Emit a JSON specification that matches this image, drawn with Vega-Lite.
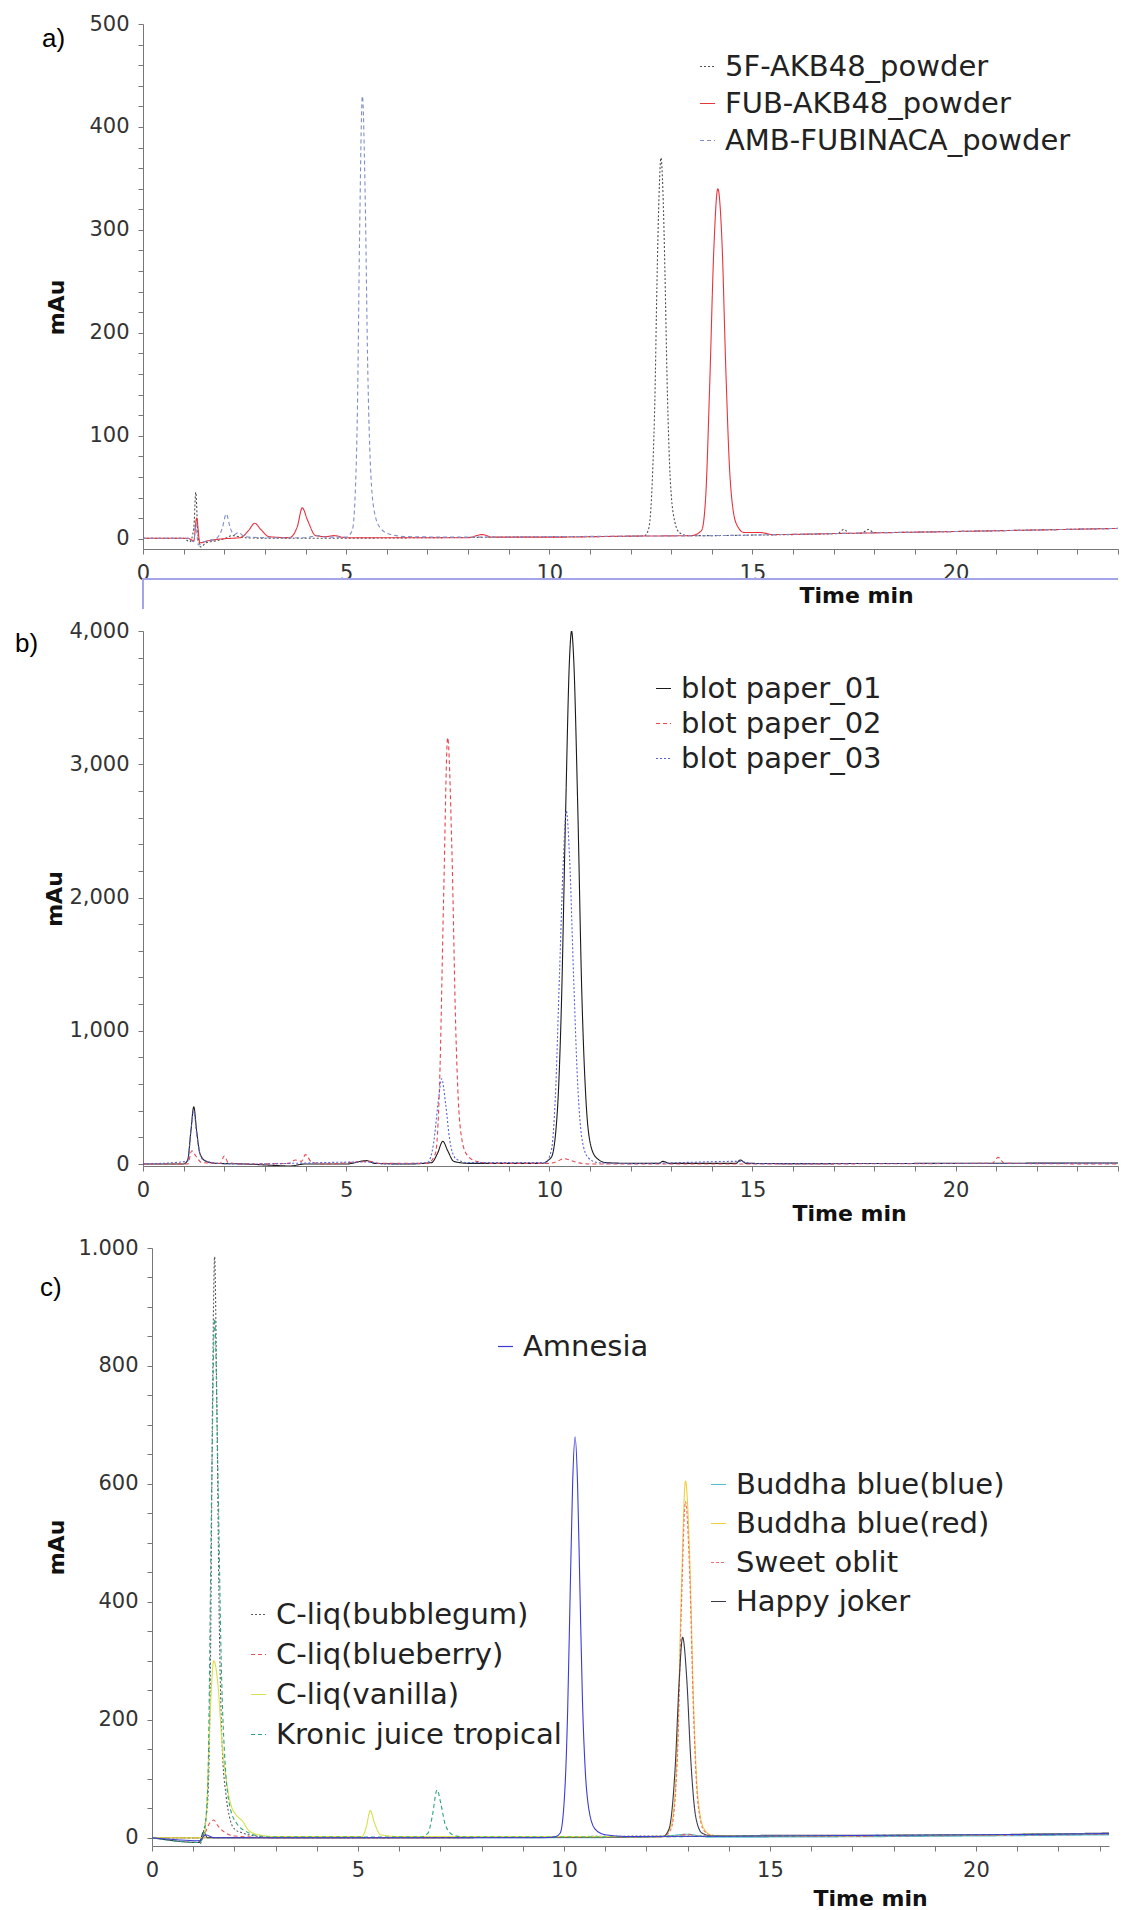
{
"$schema": "https://vega.github.io/schema/vega-lite/v6.json",
"padding": {"left": 15, "top": 13, "right": 0, "bottom": 0},
"autosize": {"type": "pad"},
"bounds": "flush",
"center": true,
"spacing": 82,
"resolve": {"scale": {"color": "independent", "strokeDash": "independent"}},
"config": {
 "view": {"stroke": null},
 "axis": {"labelFont": "DejaVu Sans", "labelFontSize": 21, "labelColor": "#333", "titleFont": "DejaVu Sans", "titleFontSize": 22, "titleFontWeight": "bold", "titleColor": "#111", "domainColor": "#777", "tickColor": "#777", "grid": false, "tickSize": 5, "labelOverlap": false, "labelFlush": false},
 "axisX": {"labelPadding": 8},
 "axisY": {"labelPadding": 9, "titlePadding": 12},
 "legend": {"orient": "none", "labelFont": "DejaVu Sans", "labelFontSize": 29, "labelColor": "#222", "symbolType": "stroke", "symbolSize": 225, "symbolStrokeWidth": 1.2, "labelOffset": 3, "rowPadding": 8, "padding": 0, "title": null, "labelLimit": 600},
 "title": {"font": "Liberation Sans", "fontSize": 26, "fontWeight": "normal", "color": "#000", "anchor": "start", "frame": "group", "offset": 0, "baseline": "middle"}
},
"vconcat": [
 {
  "width": 975, "height": 525,
  "title": {"text": "a)", "dx": -101, "dy": 43},
  "data": {"name": "a"},
  "encoding": {
   "x": {"field": "t", "type": "quantitative", "scale": {"domain": [0, 24], "nice": false, "zero": false},
         "axis": {"title": "Time min", "values": [0,1,2,3,4,5,6,7,8,9,10,11,12,13,14,15,16,17,18,19,20,21,22,23,24], "labelExpr": "datum.value % 5 === 0 ? datum.label : ''", "titleX": 713, "titleY": 46, "titleBaseline": "middle", "titleAlign": "center"}},
   "y": {"field": "v", "type": "quantitative", "scale": {"domain": [-10, 500], "nice": false, "zero": false},
         "axis": {"title": "mAu", "titleX": -87, "titleY": 283, "titleBaseline": "middle", "titleAlign": "center", "values": [0,20,40,60,80,100,120,140,160,180,200,220,240,260,280,300,320,340,360,380,400,420,440,460,480,500], "labelExpr": "datum.value % 100 === 0 ? datum.label : ''"}}
  },
  "layer": [
   {
    "mark": {"type": "line", "strokeWidth": 1.1, "clip": true, "interpolate": "monotone"},
    "encoding": {
     "color": {"field": "s", "type": "nominal", "sort": ["5F-AKB48_powder", "FUB-AKB48_powder", "AMB-FUBINACA_powder"],
               "scale": {"domain": ["5F-AKB48_powder", "FUB-AKB48_powder", "AMB-FUBINACA_powder"], "range": ["#505050", "#e8333f", "#7f8fc8"]},
               "legend": {"legendX": 550, "legendY": 28, "rowPadding": 7}},
     "strokeDash": {"field": "s", "type": "nominal", "sort": ["5F-AKB48_powder", "FUB-AKB48_powder", "AMB-FUBINACA_powder"],
               "scale": {"domain": ["5F-AKB48_powder", "FUB-AKB48_powder", "AMB-FUBINACA_powder"], "range": [[2,2], [1,0], [4,3]]},
               "legend": {"legendX": 550, "legendY": 28, "rowPadding": 7}}
    }
   },
   {
    "mark": {"type": "rule", "color": "#a4a4ea", "strokeWidth": 1.2, "clip": false},
    "encoding": {"x": null, "y": {"datum": -39}}
   },
   {
    "mark": {"type": "rule", "color": "#a4a4ea", "strokeWidth": 1.2, "clip": false},
    "encoding": {"x": {"datum": 0}, "y": {"datum": -39}, "y2": {"datum": -68}}
   }
  ]
 },
 {
  "width": 975, "height": 535,
  "title": {"text": "b)", "dx": -128, "dy": 41},
  "data": {"name": "b"},
  "mark": {"type": "line", "strokeWidth": 1.1, "clip": true, "interpolate": "monotone"},
  "encoding": {
   "x": {"field": "t", "type": "quantitative", "scale": {"domain": [0, 24], "nice": false},
         "axis": {"title": "Time min", "values": [0,1,2,3,4,5,6,7,8,9,10,11,12,13,14,15,16,17,18,19,20,21,22,23,24], "labelExpr": "datum.value % 5 === 0 ? datum.label : ''", "titleX": 706, "titleY": 47, "titleBaseline": "middle", "titleAlign": "center"}},
   "y": {"field": "v", "type": "quantitative", "scale": {"domain": [-15, 4000], "nice": false, "zero": false},
         "axis": {"title": "mAu", "titleX": -89, "titleBaseline": "middle", "titleAlign": "center", "values": [0,200,400,600,800,1000,1200,1400,1600,1800,2000,2200,2400,2600,2800,3000,3200,3400,3600,3800,4000], "labelExpr": "datum.value % 1000 === 0 ? format(datum.value, ',') : ''"}},
   "color": {"field": "s", "type": "nominal", "sort": ["blot paper_01", "blot paper_02", "blot paper_03"],
             "scale": {"domain": ["blot paper_01", "blot paper_02", "blot paper_03"], "range": ["#1a1a1a", "#e8454f", "#5865d0"]},
             "legend": {"legendX": 506, "legendY": 43, "rowPadding": 5}},
   "strokeDash": {"field": "s", "type": "nominal", "sort": ["blot paper_01", "blot paper_02", "blot paper_03"],
             "scale": {"domain": ["blot paper_01", "blot paper_02", "blot paper_03"], "range": [[1,0], [4,3], [2,2]]},
             "legend": {"legendX": 506, "legendY": 43, "rowPadding": 5}}
  }
 },
 {
  "width": 957, "height": 598,
  "title": {"text": "c)", "dx": -112, "dy": 68},
  "resolve": {"scale": {"color": "independent", "strokeDash": "independent"}},
  "encoding": {
   "x": {"field": "t", "type": "quantitative", "scale": {"domain": [0, 23.23], "nice": false},
         "axis": {"title": "Time min", "values": [0,1,2,3,4,5,6,7,8,9,10,11,12,13,14,15,16,17,18,19,20,21,22,23], "labelExpr": "datum.value % 5 === 0 ? datum.label : ''", "titleX": 718, "titleY": 52, "titleBaseline": "middle", "titleAlign": "center"}},
   "y": {"field": "v", "type": "quantitative", "scale": {"domain": [-14, 1000], "nice": false, "zero": false},
         "axis": {"title": "mAu", "titleX": -96, "titleBaseline": "middle", "titleAlign": "center", "values": [0,50,100,150,200,250,300,350,400,450,500,550,600,650,700,750,800,850,900,950,1000], "labelExpr": "datum.value % 200 === 0 ? replace(format(datum.value, ','), ',', '.') : ''"}}
  },
  "layer": [
   {
    "data": {"name": "c3"},
    "mark": {"type": "line", "strokeWidth": 1.1, "clip": true, "interpolate": "monotone"},
    "encoding": {
     "color": {"field": "s", "type": "nominal", "sort": ["Buddha blue(blue)", "Buddha blue(red)", "Sweet oblit", "Happy joker"],
               "scale": {"domain": ["Buddha blue(blue)", "Buddha blue(red)", "Sweet oblit", "Happy joker"], "range": ["#50c0d0", "#f0d040", "#f07070", "#3a3a48"]},
               "legend": {"legendX": 552, "legendY": 222, "rowPadding": 9}},
     "strokeDash": {"field": "s", "type": "nominal", "sort": ["Buddha blue(blue)", "Buddha blue(red)", "Sweet oblit", "Happy joker"],
               "scale": {"domain": ["Buddha blue(blue)", "Buddha blue(red)", "Sweet oblit", "Happy joker"], "range": [[1,0], [1,0], [3,2], [1,0]]},
               "legend": {"legendX": 552, "legendY": 222, "rowPadding": 9}}
    }
   },
   {
    "data": {"name": "c1"},
    "mark": {"type": "line", "strokeWidth": 1.1, "clip": true, "interpolate": "monotone"},
    "encoding": {
     "color": {"field": "s", "type": "nominal", "sort": ["C-liq(bubblegum)", "C-liq(blueberry)", "C-liq(vanilla)", "Kronic juice tropical"],
               "scale": {"domain": ["C-liq(bubblegum)", "C-liq(blueberry)", "C-liq(vanilla)", "Kronic juice tropical"], "range": ["#5a5a5a", "#e05555", "#d6e04a", "#2fa37a"]},
               "legend": {"legendX": 92, "legendY": 352, "rowPadding": 10}},
     "strokeDash": {"field": "s", "type": "nominal", "sort": ["C-liq(bubblegum)", "C-liq(blueberry)", "C-liq(vanilla)", "Kronic juice tropical"],
               "scale": {"domain": ["C-liq(bubblegum)", "C-liq(blueberry)", "C-liq(vanilla)", "Kronic juice tropical"], "range": [[2,2], [4,3], [1,0], [4,3]]},
               "legend": {"legendX": 92, "legendY": 352, "rowPadding": 10}}
    }
   },
   {
    "data": {"name": "c2"},
    "mark": {"type": "line", "strokeWidth": 1.1, "clip": true, "interpolate": "monotone"},
    "encoding": {
     "color": {"field": "s", "type": "nominal",
               "scale": {"domain": ["Amnesia"], "range": ["#3b3bd6"]},
               "legend": {"legendX": 339, "legendY": 84}}
    }
   }
  ]
 }
],
"datasets": {
 "a": [
  {"s":"5F-AKB48_powder","t":0,"v":0.5},{"s":"5F-AKB48_powder","t":0.5,"v":0.4},{"s":"5F-AKB48_powder","t":1.0,"v":0.5},{"s":"5F-AKB48_powder","t":1.15,"v":-3},{"s":"5F-AKB48_powder","t":1.25,"v":10},{"s":"5F-AKB48_powder","t":1.3,"v":45},{"s":"5F-AKB48_powder","t":1.35,"v":5},{"s":"5F-AKB48_powder","t":1.42,"v":-8},{"s":"5F-AKB48_powder","t":1.55,"v":-4},{"s":"5F-AKB48_powder","t":1.8,"v":-2},{"s":"5F-AKB48_powder","t":2.0,"v":0},{"s":"5F-AKB48_powder","t":2.2,"v":3},{"s":"5F-AKB48_powder","t":2.5,"v":1},{"s":"5F-AKB48_powder","t":3.0,"v":0.5},{"s":"5F-AKB48_powder","t":4.0,"v":0.5},{"s":"5F-AKB48_powder","t":5.0,"v":0.5},{"s":"5F-AKB48_powder","t":7.0,"v":1},{"s":"5F-AKB48_powder","t":9.0,"v":1.5},{"s":"5F-AKB48_powder","t":11.0,"v":2},{"s":"5F-AKB48_powder","t":12.2,"v":2.5},{"s":"5F-AKB48_powder","t":12.35,"v":3},{"s":"5F-AKB48_powder","t":12.45,"v":10},{"s":"5F-AKB48_powder","t":12.55,"v":70},{"s":"5F-AKB48_powder","t":12.6,"v":135},{"s":"5F-AKB48_powder","t":12.65,"v":245},{"s":"5F-AKB48_powder","t":12.7,"v":330},{"s":"5F-AKB48_powder","t":12.75,"v":370},{"s":"5F-AKB48_powder","t":12.8,"v":335},{"s":"5F-AKB48_powder","t":12.85,"v":255},{"s":"5F-AKB48_powder","t":12.9,"v":155},{"s":"5F-AKB48_powder","t":12.95,"v":85},{"s":"5F-AKB48_powder","t":13.05,"v":25},{"s":"5F-AKB48_powder","t":13.2,"v":6},{"s":"5F-AKB48_powder","t":13.4,"v":3},{"s":"5F-AKB48_powder","t":14,"v":3},{"s":"5F-AKB48_powder","t":15,"v":3.5},{"s":"5F-AKB48_powder","t":17.1,"v":5},{"s":"5F-AKB48_powder","t":17.25,"v":9},{"s":"5F-AKB48_powder","t":17.4,"v":5},{"s":"5F-AKB48_powder","t":17.7,"v":5.5},{"s":"5F-AKB48_powder","t":17.85,"v":9},{"s":"5F-AKB48_powder","t":18.0,"v":6},{"s":"5F-AKB48_powder","t":20,"v":7},{"s":"5F-AKB48_powder","t":22,"v":8.5},{"s":"5F-AKB48_powder","t":24,"v":10},
  {"s":"FUB-AKB48_powder","t":0,"v":0.5},{"s":"FUB-AKB48_powder","t":1.1,"v":0.5},{"s":"FUB-AKB48_powder","t":1.25,"v":-2},{"s":"FUB-AKB48_powder","t":1.32,"v":20},{"s":"FUB-AKB48_powder","t":1.4,"v":-4},{"s":"FUB-AKB48_powder","t":1.6,"v":-2},{"s":"FUB-AKB48_powder","t":2.0,"v":0},{"s":"FUB-AKB48_powder","t":2.4,"v":1},{"s":"FUB-AKB48_powder","t":2.6,"v":8},{"s":"FUB-AKB48_powder","t":2.75,"v":15},{"s":"FUB-AKB48_powder","t":2.9,"v":9},{"s":"FUB-AKB48_powder","t":3.1,"v":2},{"s":"FUB-AKB48_powder","t":3.6,"v":1},{"s":"FUB-AKB48_powder","t":3.8,"v":12},{"s":"FUB-AKB48_powder","t":3.92,"v":30},{"s":"FUB-AKB48_powder","t":4.05,"v":18},{"s":"FUB-AKB48_powder","t":4.25,"v":3},{"s":"FUB-AKB48_powder","t":4.5,"v":2},{"s":"FUB-AKB48_powder","t":4.7,"v":3},{"s":"FUB-AKB48_powder","t":5,"v":1},{"s":"FUB-AKB48_powder","t":6,"v":1},{"s":"FUB-AKB48_powder","t":8,"v":1},{"s":"FUB-AKB48_powder","t":8.35,"v":4},{"s":"FUB-AKB48_powder","t":8.6,"v":1.5},{"s":"FUB-AKB48_powder","t":10,"v":1.5},{"s":"FUB-AKB48_powder","t":12,"v":2.5},{"s":"FUB-AKB48_powder","t":13.5,"v":3},{"s":"FUB-AKB48_powder","t":13.75,"v":8},{"s":"FUB-AKB48_powder","t":13.85,"v":40},{"s":"FUB-AKB48_powder","t":13.95,"v":150},{"s":"FUB-AKB48_powder","t":14.05,"v":280},{"s":"FUB-AKB48_powder","t":14.15,"v":340},{"s":"FUB-AKB48_powder","t":14.25,"v":290},{"s":"FUB-AKB48_powder","t":14.35,"v":160},{"s":"FUB-AKB48_powder","t":14.45,"v":60},{"s":"FUB-AKB48_powder","t":14.6,"v":15},{"s":"FUB-AKB48_powder","t":14.8,"v":6},{"s":"FUB-AKB48_powder","t":15.2,"v":6},{"s":"FUB-AKB48_powder","t":15.5,"v":4},{"s":"FUB-AKB48_powder","t":17,"v":5},{"s":"FUB-AKB48_powder","t":20,"v":7},{"s":"FUB-AKB48_powder","t":24,"v":10},
  {"s":"AMB-FUBINACA_powder","t":0,"v":0.5},{"s":"AMB-FUBINACA_powder","t":1.1,"v":0.5},{"s":"AMB-FUBINACA_powder","t":1.25,"v":-3},{"s":"AMB-FUBINACA_powder","t":1.3,"v":15},{"s":"AMB-FUBINACA_powder","t":1.36,"v":-6},{"s":"AMB-FUBINACA_powder","t":1.5,"v":-3},{"s":"AMB-FUBINACA_powder","t":1.8,"v":0},{"s":"AMB-FUBINACA_powder","t":1.95,"v":10},{"s":"AMB-FUBINACA_powder","t":2.05,"v":24},{"s":"AMB-FUBINACA_powder","t":2.15,"v":10},{"s":"AMB-FUBINACA_powder","t":2.25,"v":4},{"s":"AMB-FUBINACA_powder","t":2.35,"v":6},{"s":"AMB-FUBINACA_powder","t":2.5,"v":2},{"s":"AMB-FUBINACA_powder","t":3.0,"v":1},{"s":"AMB-FUBINACA_powder","t":4,"v":1},{"s":"AMB-FUBINACA_powder","t":4.3,"v":3},{"s":"AMB-FUBINACA_powder","t":4.5,"v":1.5},{"s":"AMB-FUBINACA_powder","t":5.0,"v":1.5},{"s":"AMB-FUBINACA_powder","t":5.15,"v":8},{"s":"AMB-FUBINACA_powder","t":5.22,"v":40},{"s":"AMB-FUBINACA_powder","t":5.28,"v":130},{"s":"AMB-FUBINACA_powder","t":5.33,"v":290},{"s":"AMB-FUBINACA_powder","t":5.4,"v":430},{"s":"AMB-FUBINACA_powder","t":5.47,"v":330},{"s":"AMB-FUBINACA_powder","t":5.53,"v":170},{"s":"AMB-FUBINACA_powder","t":5.6,"v":70},{"s":"AMB-FUBINACA_powder","t":5.7,"v":25},{"s":"AMB-FUBINACA_powder","t":5.85,"v":10},{"s":"AMB-FUBINACA_powder","t":6.1,"v":4},{"s":"AMB-FUBINACA_powder","t":6.5,"v":2},{"s":"AMB-FUBINACA_powder","t":8,"v":1.5},{"s":"AMB-FUBINACA_powder","t":10,"v":2},{"s":"AMB-FUBINACA_powder","t":12,"v":2.5},{"s":"AMB-FUBINACA_powder","t":14,"v":3},{"s":"AMB-FUBINACA_powder","t":17,"v":5},{"s":"AMB-FUBINACA_powder","t":20,"v":7},{"s":"AMB-FUBINACA_powder","t":24,"v":10}
 ],
 "b": [
  {"s":"blot paper_01","t":0,"v":0},{"s":"blot paper_01","t":1.0,"v":0},{"s":"blot paper_01","t":1.1,"v":30},{"s":"blot paper_01","t":1.18,"v":250},{"s":"blot paper_01","t":1.25,"v":430},{"s":"blot paper_01","t":1.32,"v":250},{"s":"blot paper_01","t":1.4,"v":80},{"s":"blot paper_01","t":1.55,"v":20},{"s":"blot paper_01","t":1.8,"v":5},{"s":"blot paper_01","t":2.5,"v":0},{"s":"blot paper_01","t":3.2,"v":-10},{"s":"blot paper_01","t":3.6,"v":-15},{"s":"blot paper_01","t":4.0,"v":0},{"s":"blot paper_01","t":5.0,"v":0},{"s":"blot paper_01","t":5.5,"v":25},{"s":"blot paper_01","t":5.7,"v":5},{"s":"blot paper_01","t":6.5,"v":0},{"s":"blot paper_01","t":7.1,"v":10},{"s":"blot paper_01","t":7.25,"v":80},{"s":"blot paper_01","t":7.38,"v":170},{"s":"blot paper_01","t":7.5,"v":100},{"s":"blot paper_01","t":7.65,"v":20},{"s":"blot paper_01","t":8,"v":5},{"s":"blot paper_01","t":9.8,"v":5},{"s":"blot paper_01","t":10.05,"v":50},{"s":"blot paper_01","t":10.2,"v":400},{"s":"blot paper_01","t":10.3,"v":1200},{"s":"blot paper_01","t":10.4,"v":2600},{"s":"blot paper_01","t":10.5,"v":3800},{"s":"blot paper_01","t":10.55,"v":4000},{"s":"blot paper_01","t":10.6,"v":3800},{"s":"blot paper_01","t":10.7,"v":2700},{"s":"blot paper_01","t":10.8,"v":1300},{"s":"blot paper_01","t":10.9,"v":500},{"s":"blot paper_01","t":11.0,"v":170},{"s":"blot paper_01","t":11.15,"v":50},{"s":"blot paper_01","t":11.4,"v":10},{"s":"blot paper_01","t":12,"v":5},{"s":"blot paper_01","t":12.7,"v":5},{"s":"blot paper_01","t":12.8,"v":20},{"s":"blot paper_01","t":12.95,"v":5},{"s":"blot paper_01","t":14.6,"v":5},{"s":"blot paper_01","t":14.7,"v":30},{"s":"blot paper_01","t":14.85,"v":5},{"s":"blot paper_01","t":16,"v":3},{"s":"blot paper_01","t":20,"v":5},{"s":"blot paper_01","t":24,"v":8},
  {"s":"blot paper_02","t":0,"v":0},{"s":"blot paper_02","t":1.1,"v":0},{"s":"blot paper_02","t":1.2,"v":100},{"s":"blot paper_02","t":1.3,"v":60},{"s":"blot paper_02","t":1.45,"v":10},{"s":"blot paper_02","t":1.9,"v":5},{"s":"blot paper_02","t":2.0,"v":60},{"s":"blot paper_02","t":2.1,"v":10},{"s":"blot paper_02","t":2.5,"v":0},{"s":"blot paper_02","t":3.6,"v":5},{"s":"blot paper_02","t":3.75,"v":30},{"s":"blot paper_02","t":3.9,"v":20},{"s":"blot paper_02","t":4.0,"v":70},{"s":"blot paper_02","t":4.15,"v":15},{"s":"blot paper_02","t":4.5,"v":0},{"s":"blot paper_02","t":5.6,"v":20},{"s":"blot paper_02","t":5.8,"v":5},{"s":"blot paper_02","t":7.0,"v":5},{"s":"blot paper_02","t":7.2,"v":80},{"s":"blot paper_02","t":7.3,"v":600},{"s":"blot paper_02","t":7.4,"v":2000},{"s":"blot paper_02","t":7.5,"v":3200},{"s":"blot paper_02","t":7.6,"v":2400},{"s":"blot paper_02","t":7.7,"v":1000},{"s":"blot paper_02","t":7.8,"v":300},{"s":"blot paper_02","t":7.95,"v":80},{"s":"blot paper_02","t":8.2,"v":20},{"s":"blot paper_02","t":8.6,"v":5},{"s":"blot paper_02","t":10.0,"v":5},{"s":"blot paper_02","t":10.2,"v":20},{"s":"blot paper_02","t":10.35,"v":40},{"s":"blot paper_02","t":10.5,"v":30},{"s":"blot paper_02","t":10.7,"v":10},{"s":"blot paper_02","t":11,"v":0},{"s":"blot paper_02","t":14,"v":0},{"s":"blot paper_02","t":20.9,"v":5},{"s":"blot paper_02","t":21.05,"v":50},{"s":"blot paper_02","t":21.2,"v":5},{"s":"blot paper_02","t":24,"v":0},
  {"s":"blot paper_03","t":0,"v":0},{"s":"blot paper_03","t":1.1,"v":20},{"s":"blot paper_03","t":1.18,"v":250},{"s":"blot paper_03","t":1.25,"v":400},{"s":"blot paper_03","t":1.32,"v":230},{"s":"blot paper_03","t":1.45,"v":40},{"s":"blot paper_03","t":1.8,"v":5},{"s":"blot paper_03","t":2.5,"v":0},{"s":"blot paper_03","t":5.5,"v":15},{"s":"blot paper_03","t":6,"v":0},{"s":"blot paper_03","t":7.0,"v":10},{"s":"blot paper_03","t":7.15,"v":150},{"s":"blot paper_03","t":7.28,"v":500},{"s":"blot paper_03","t":7.35,"v":640},{"s":"blot paper_03","t":7.45,"v":450},{"s":"blot paper_03","t":7.55,"v":180},{"s":"blot paper_03","t":7.7,"v":40},{"s":"blot paper_03","t":8,"v":10},{"s":"blot paper_03","t":9.9,"v":10},{"s":"blot paper_03","t":10.05,"v":100},{"s":"blot paper_03","t":10.15,"v":500},{"s":"blot paper_03","t":10.25,"v":1400},{"s":"blot paper_03","t":10.35,"v":2300},{"s":"blot paper_03","t":10.42,"v":2650},{"s":"blot paper_03","t":10.5,"v":2300},{"s":"blot paper_03","t":10.6,"v":1400},{"s":"blot paper_03","t":10.7,"v":600},{"s":"blot paper_03","t":10.8,"v":200},{"s":"blot paper_03","t":10.95,"v":50},{"s":"blot paper_03","t":11.2,"v":10},{"s":"blot paper_03","t":12,"v":3},{"s":"blot paper_03","t":14.7,"v":20},{"s":"blot paper_03","t":15,"v":3},{"s":"blot paper_03","t":24,"v":5}
 ],
 "c1": [
  {"s":"C-liq(bubblegum)","t":0,"v":0},{"s":"C-liq(bubblegum)","t":1.1,"v":0},{"s":"C-liq(bubblegum)","t":1.17,"v":-10},{"s":"C-liq(bubblegum)","t":1.25,"v":10},{"s":"C-liq(bubblegum)","t":1.35,"v":60},{"s":"C-liq(bubblegum)","t":1.42,"v":300},{"s":"C-liq(bubblegum)","t":1.47,"v":750},{"s":"C-liq(bubblegum)","t":1.52,"v":985},{"s":"C-liq(bubblegum)","t":1.57,"v":760},{"s":"C-liq(bubblegum)","t":1.63,"v":380},{"s":"C-liq(bubblegum)","t":1.7,"v":160},{"s":"C-liq(bubblegum)","t":1.8,"v":70},{"s":"C-liq(bubblegum)","t":1.9,"v":30},{"s":"C-liq(bubblegum)","t":2.0,"v":15},{"s":"C-liq(bubblegum)","t":2.2,"v":8},{"s":"C-liq(bubblegum)","t":2.5,"v":3},{"s":"C-liq(bubblegum)","t":3,"v":0},{"s":"C-liq(bubblegum)","t":5,"v":0},{"s":"C-liq(bubblegum)","t":7,"v":1},{"s":"C-liq(bubblegum)","t":10,"v":2},{"s":"C-liq(bubblegum)","t":13,"v":3},{"s":"C-liq(bubblegum)","t":15,"v":3},{"s":"C-liq(bubblegum)","t":20,"v":5},{"s":"C-liq(bubblegum)","t":23.3,"v":7},
  {"s":"C-liq(blueberry)","t":0,"v":0},{"s":"C-liq(blueberry)","t":1.2,"v":0},{"s":"C-liq(blueberry)","t":1.3,"v":10},{"s":"C-liq(blueberry)","t":1.4,"v":25},{"s":"C-liq(blueberry)","t":1.5,"v":30},{"s":"C-liq(blueberry)","t":1.6,"v":20},{"s":"C-liq(blueberry)","t":1.75,"v":10},{"s":"C-liq(blueberry)","t":2.0,"v":3},{"s":"C-liq(blueberry)","t":3,"v":0},{"s":"C-liq(blueberry)","t":10,"v":1},{"s":"C-liq(blueberry)","t":12.7,"v":2},{"s":"C-liq(blueberry)","t":13,"v":6},{"s":"C-liq(blueberry)","t":13.3,"v":2},{"s":"C-liq(blueberry)","t":20,"v":4},{"s":"C-liq(blueberry)","t":23.3,"v":6},
  {"s":"C-liq(vanilla)","t":0,"v":0},{"s":"C-liq(vanilla)","t":1.25,"v":0},{"s":"C-liq(vanilla)","t":1.32,"v":40},{"s":"C-liq(vanilla)","t":1.4,"v":190},{"s":"C-liq(vanilla)","t":1.5,"v":300},{"s":"C-liq(vanilla)","t":1.6,"v":260},{"s":"C-liq(vanilla)","t":1.7,"v":160},{"s":"C-liq(vanilla)","t":1.8,"v":100},{"s":"C-liq(vanilla)","t":1.9,"v":60},{"s":"C-liq(vanilla)","t":2.05,"v":38},{"s":"C-liq(vanilla)","t":2.2,"v":28},{"s":"C-liq(vanilla)","t":2.35,"v":12},{"s":"C-liq(vanilla)","t":2.6,"v":5},{"s":"C-liq(vanilla)","t":3,"v":2},{"s":"C-liq(vanilla)","t":5.1,"v":2},{"s":"C-liq(vanilla)","t":5.2,"v":18},{"s":"C-liq(vanilla)","t":5.3,"v":46},{"s":"C-liq(vanilla)","t":5.4,"v":25},{"s":"C-liq(vanilla)","t":5.55,"v":5},{"s":"C-liq(vanilla)","t":6,"v":2},{"s":"C-liq(vanilla)","t":10,"v":2},{"s":"C-liq(vanilla)","t":15,"v":3},{"s":"C-liq(vanilla)","t":20,"v":5},{"s":"C-liq(vanilla)","t":23.3,"v":7},
  {"s":"Kronic juice tropical","t":0,"v":0},{"s":"Kronic juice tropical","t":1.15,"v":-8},{"s":"Kronic juice tropical","t":1.25,"v":5},{"s":"Kronic juice tropical","t":1.35,"v":80},{"s":"Kronic juice tropical","t":1.45,"v":600},{"s":"Kronic juice tropical","t":1.52,"v":880},{"s":"Kronic juice tropical","t":1.6,"v":620},{"s":"Kronic juice tropical","t":1.68,"v":300},{"s":"Kronic juice tropical","t":1.78,"v":120},{"s":"Kronic juice tropical","t":1.9,"v":50},{"s":"Kronic juice tropical","t":2.05,"v":25},{"s":"Kronic juice tropical","t":2.3,"v":10},{"s":"Kronic juice tropical","t":2.6,"v":3},{"s":"Kronic juice tropical","t":3,"v":1},{"s":"Kronic juice tropical","t":6.5,"v":1},{"s":"Kronic juice tropical","t":6.7,"v":8},{"s":"Kronic juice tropical","t":6.8,"v":35},{"s":"Kronic juice tropical","t":6.92,"v":81},{"s":"Kronic juice tropical","t":7.02,"v":55},{"s":"Kronic juice tropical","t":7.12,"v":22},{"s":"Kronic juice tropical","t":7.3,"v":5},{"s":"Kronic juice tropical","t":7.6,"v":1},{"s":"Kronic juice tropical","t":10,"v":1},{"s":"Kronic juice tropical","t":15,"v":3},{"s":"Kronic juice tropical","t":20,"v":5},{"s":"Kronic juice tropical","t":23.3,"v":7}
 ],
 "c2": [
  {"s":"Amnesia","t":0,"v":0},{"s":"Amnesia","t":1.15,"v":-5},{"s":"Amnesia","t":1.3,"v":5},{"s":"Amnesia","t":1.5,"v":0},{"s":"Amnesia","t":9.5,"v":0},{"s":"Amnesia","t":9.8,"v":2},{"s":"Amnesia","t":9.91,"v":8},{"s":"Amnesia","t":10.03,"v":92},{"s":"Amnesia","t":10.09,"v":217},{"s":"Amnesia","t":10.15,"v":413},{"s":"Amnesia","t":10.21,"v":600},{"s":"Amnesia","t":10.27,"v":680},{"s":"Amnesia","t":10.33,"v":600},{"s":"Amnesia","t":10.39,"v":413},{"s":"Amnesia","t":10.45,"v":230},{"s":"Amnesia","t":10.52,"v":110},{"s":"Amnesia","t":10.6,"v":50},{"s":"Amnesia","t":10.75,"v":15},{"s":"Amnesia","t":11.0,"v":5},{"s":"Amnesia","t":11.5,"v":2},{"s":"Amnesia","t":15,"v":3},{"s":"Amnesia","t":20,"v":5},{"s":"Amnesia","t":23.3,"v":7}
 ],
 "c3": [
  {"s":"Buddha blue(blue)","t":0,"v":0},{"s":"Buddha blue(blue)","t":1.2,"v":0},{"s":"Buddha blue(blue)","t":10,"v":0},{"s":"Buddha blue(blue)","t":11.8,"v":1},{"s":"Buddha blue(blue)","t":12.5,"v":3},{"s":"Buddha blue(blue)","t":13.0,"v":6},{"s":"Buddha blue(blue)","t":13.3,"v":3},{"s":"Buddha blue(blue)","t":13.5,"v":1},{"s":"Buddha blue(blue)","t":20,"v":3},{"s":"Buddha blue(blue)","t":23.3,"v":5},
  {"s":"Buddha blue(red)","t":0,"v":0},{"s":"Buddha blue(red)","t":1.2,"v":0},{"s":"Buddha blue(red)","t":5,"v":0},{"s":"Buddha blue(red)","t":10,"v":1},{"s":"Buddha blue(red)","t":12.4,"v":2},{"s":"Buddha blue(red)","t":12.6,"v":20},{"s":"Buddha blue(red)","t":12.75,"v":150},{"s":"Buddha blue(red)","t":12.85,"v":420},{"s":"Buddha blue(red)","t":12.95,"v":605},{"s":"Buddha blue(red)","t":13.05,"v":480},{"s":"Buddha blue(red)","t":13.15,"v":220},{"s":"Buddha blue(red)","t":13.25,"v":70},{"s":"Buddha blue(red)","t":13.4,"v":15},{"s":"Buddha blue(red)","t":13.6,"v":4},{"s":"Buddha blue(red)","t":15,"v":3},{"s":"Buddha blue(red)","t":20,"v":5},{"s":"Buddha blue(red)","t":23.3,"v":7},
  {"s":"Sweet oblit","t":0,"v":0},{"s":"Sweet oblit","t":1.2,"v":0},{"s":"Sweet oblit","t":5,"v":0},{"s":"Sweet oblit","t":12.4,"v":2},{"s":"Sweet oblit","t":12.6,"v":15},{"s":"Sweet oblit","t":12.75,"v":130},{"s":"Sweet oblit","t":12.85,"v":390},{"s":"Sweet oblit","t":12.95,"v":570},{"s":"Sweet oblit","t":13.05,"v":450},{"s":"Sweet oblit","t":13.15,"v":200},{"s":"Sweet oblit","t":13.25,"v":60},{"s":"Sweet oblit","t":13.4,"v":12},{"s":"Sweet oblit","t":13.6,"v":4},{"s":"Sweet oblit","t":15,"v":3},{"s":"Sweet oblit","t":20,"v":5},{"s":"Sweet oblit","t":23.3,"v":7},
  {"s":"Happy joker","t":0,"v":0},{"s":"Happy joker","t":1.15,"v":-8},{"s":"Happy joker","t":1.25,"v":10},{"s":"Happy joker","t":1.35,"v":0},{"s":"Happy joker","t":5,"v":0},{"s":"Happy joker","t":12.4,"v":2},{"s":"Happy joker","t":12.55,"v":15},{"s":"Happy joker","t":12.7,"v":120},{"s":"Happy joker","t":12.8,"v":270},{"s":"Happy joker","t":12.88,"v":340},{"s":"Happy joker","t":12.98,"v":270},{"s":"Happy joker","t":13.08,"v":130},{"s":"Happy joker","t":13.2,"v":35},{"s":"Happy joker","t":13.35,"v":8},{"s":"Happy joker","t":13.6,"v":3},{"s":"Happy joker","t":15,"v":4},{"s":"Happy joker","t":18,"v":4},{"s":"Happy joker","t":20,"v":5},{"s":"Happy joker","t":23.3,"v":8}
 ]
}
}
